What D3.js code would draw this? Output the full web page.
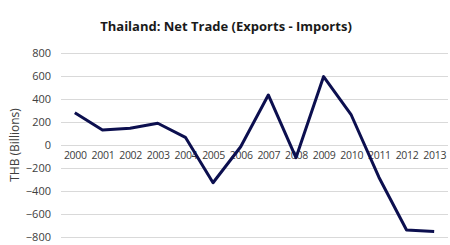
<!DOCTYPE html>
<html><head><meta charset="utf-8">
<script src="https://cdn.jsdelivr.net/npm/d3@7"></script>
<style>body{margin:0;background:#fff}svg{display:block}</style>
</head><body>
<svg id="c" width="450" height="245"></svg>
<script>
const years = ["2000","2001","2002","2003","2004","2005","2006","2007","2008","2009","2010","2011","2012","2013"];
const netTrade = [281, 130, 145, 189, 67, -328, -15, 435, -110, 595, 261, -280, -739, -752];
const yTicks = [-800, -600, -400, -200, 0, 200, 400, 600, 800];

const svg = d3.select("#c");
const m = {l: 61, r: 448, t: 53, b: 237};
const x = d3.scalePoint().domain(years).range([m.l, m.r]).padding(0.5);
const y = d3.scaleLinear().domain([-800, 800]).range([m.b, m.t]);

svg.append("text").attr("x", 226).attr("y", 31).attr("text-anchor", "middle")
  .attr("font-family", "Open Sans, sans-serif").attr("font-weight", "bold")
  .attr("font-size", 13).attr("fill", "#1a1a1a").text("Thailand: Net Trade (Exports - Imports)");

const ya = svg.append("g").attr("transform", `translate(${m.l},0)`)
  .call(d3.axisLeft(y).tickValues(yTicks).tickSize(-(m.r - m.l)).tickPadding(10));
ya.select(".domain").remove();
ya.selectAll("line").attr("stroke", "#d9d9d9").attr("stroke-width", 1);
ya.selectAll("text").attr("font-family", "Open Sans, sans-serif").attr("font-size", 11).attr("fill", "#404040");

const xa = svg.append("g").attr("transform", `translate(0,${y(0)})`)
  .call(d3.axisBottom(x).tickSize(0).tickPadding(7));
xa.select(".domain").remove();
xa.selectAll("text").attr("font-family", "Open Sans, sans-serif").attr("font-size", 10.5).attr("fill", "#404040").attr("letter-spacing", -0.3);

svg.append("text").attr("transform", `translate(19,${(m.t + m.b) / 2}) rotate(-90)`)
  .attr("text-anchor", "middle").attr("font-family", "Open Sans, sans-serif")
  .attr("font-size", 12).attr("fill", "#404040").text("THB (Billions)");

svg.append("path").datum(netTrade)
  .attr("fill", "none").attr("stroke", "#0c0f4f").attr("stroke-width", 3).attr("stroke-linejoin", "round")
  .attr("d", d3.line().x((d, i) => x(years[i])).y(d => y(d)));
</script>
</body></html>
